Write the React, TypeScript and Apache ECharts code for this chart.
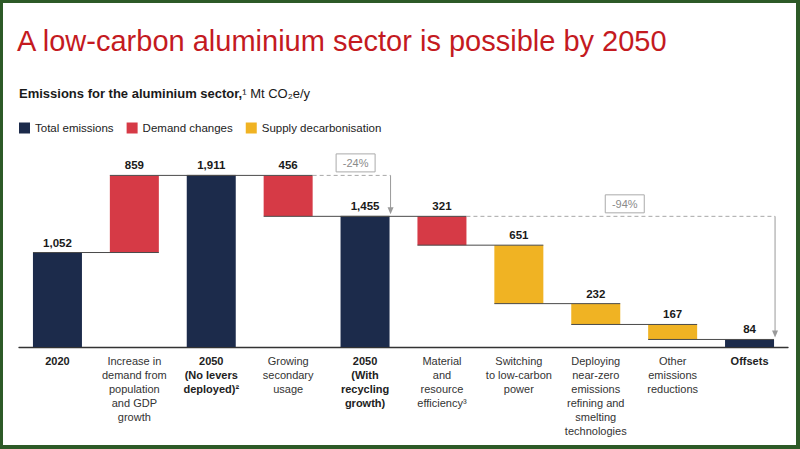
import React, { useEffect, useRef } from "react";
import * as echarts from "echarts";

const categories = [
  "2020",
  "Increase in\ndemand from\npopulation\nand GDP\ngrowth",
  "2050\n(No levers\ndeployed)²",
  "Growing\nsecondary\nusage",
  "2050\n(With\nrecycling\ngrowth)",
  "Material\nand\nresource\nefficiency³",
  "Switching\nto low-carbon\npower",
  "Deploying\nnear-zero\nemissions\nrefining and\nsmelting\ntechnologies",
  "Other\nemissions\nreductions",
  "Offsets",
];
// kind: total / demand / supply ; step sign: +1 increase, -1 decrease
const kinds = ["total", "demand", "total", "demand", "total", "demand", "supply", "supply", "supply", "total"];
const values = [1052, 859, 1911, 456, 1455, 321, 651, 232, 167, 84];
const signs = [0, 1, 0, -1, 0, -1, -1, -1, -1, 0];
const pctLabels = ["-24%", "-94%"];
const annotations = [
  [3, 4, 1911, 1455],
  [5, 9, 1455, 84],
];

const NAVY = "#1c2b4b";
const RED = "#d63a46";
const YELLOW = "#f0b323";
const FONT = "Liberation Sans";

export default function App() {
  const ref = useRef<HTMLDivElement>(null);
  useEffect(() => {
    if (!ref.current) return;
    const chart = echarts.init(ref.current, null, { renderer: "svg" });

    const base: number[] = [];
    const levels: number[] = [];
    let run = 0;
    values.forEach((v, i) => {
      if (signs[i] === 0) {
        base.push(0);
        run = v;
      } else if (signs[i] > 0) {
        base.push(run);
        run = run + v;
      } else {
        run = run - v;
        base.push(run);
      }
      levels.push(run);
    });
    const pick = (k: string) => values.map((v, i) => (kinds[i] === k ? v : "-"));
    const connectors: number[][] = [];
    for (let i = 0; i < values.length - 1; i++) connectors.push([i, levels[i]]);

    const barW = 49;
    const fmt = (p: any) => Number(p.value).toLocaleString("en-US");
    const barLabel = {
      show: true,
      position: "top" as const,
      formatter: fmt,
      fontFamily: FONT,
      fontWeight: "bold" as const,
      fontSize: 11.5,
      color: "#1a1a1a",
      distance: 4,
    };
    const bold = new Set([0, 2, 4, 9]);

    chart.setOption({
      animation: false,
      backgroundColor: "#ffffff",
      textStyle: { fontFamily: FONT },
      legend: {
        left: 14,
        top: 117,
        itemWidth: 11,
        itemHeight: 11,
        itemGap: 13,
        icon: "rect",
        data: ["Total emissions", "Demand changes", "Supply decarbonisation"],
        textStyle: { fontFamily: FONT, fontSize: 11.5, color: "#222" },
        selectedMode: false,
      },
      grid: { left: 19, right: 12, top: 167.4, bottom: 102 },
      xAxis: {
        type: "category",
        data: categories,
        axisTick: { show: false },
        axisLine: { lineStyle: { color: "#333", width: 1.3 } },
        axisLabel: {
          interval: 0,
          margin: 7,
          fontFamily: FONT,
          fontSize: 11,
          lineHeight: 14,
          color: "#333",
          formatter: (val: string, idx: number) =>
            bold.has(idx)
              ? val.split("\n").map((l) => `{b|${l}}`).join("\n")
              : val,
          rich: {
            b: { fontFamily: FONT, fontSize: 11, fontWeight: "bold", lineHeight: 14, color: "#222" },
          },
        },
      },
      yAxis: { type: "value", min: 0, max: 2000, show: false, splitLine: { show: false } },
      series: [
        {
          name: "base",
          type: "bar",
          stack: "w",
          barWidth: barW,
          silent: true,
          itemStyle: { color: "transparent" },
          data: base,
        },
        {
          name: "Total emissions",
          type: "bar",
          stack: "w",
          barWidth: barW,
          itemStyle: { color: NAVY },
          label: barLabel,
          data: pick("total"),
        },
        {
          name: "Demand changes",
          type: "bar",
          stack: "w",
          barWidth: barW,
          itemStyle: { color: RED },
          label: barLabel,
          data: pick("demand"),
        },
        {
          name: "Supply decarbonisation",
          type: "bar",
          stack: "w",
          barWidth: barW,
          itemStyle: { color: YELLOW },
          label: barLabel,
          data: pick("supply"),
        },
        {
          type: "custom",
          silent: true,
          z: 5,
          encode: { x: 0, y: 1 },
          data: connectors,
          renderItem: (params: any, api: any) => {
            const i = api.value(0);
            const lvl = api.value(1);
            const a = api.coord([i, lvl]);
            const b = api.coord([i + 1, lvl]);
            const hw = barW / 2;
            return {
              type: "line",
              shape: { x1: a[0] - hw, y1: a[1], x2: b[0] + hw, y2: b[1] },
              style: { stroke: "#4a4a4a", lineWidth: 1 },
            };
          },
        },
        {
          type: "custom",
          silent: true,
          z: 6,
          encode: { x: 0, y: 2 },
          data: annotations,
          renderItem: (params: any, api: any) => {
            const from = api.value(0);
            const to = api.value(1);
            const l1 = api.value(2);
            const l2 = api.value(3);
            const hw = barW / 2;
            const p1 = api.coord([from, l1]);
            const p2 = api.coord([to, l2]);
            const x1 = p1[0] + hw;
            const cx = p2[0] + hw + 1;
            const y1 = p1[1];
            const y2 = p2[1] - 2;
            const bx = (x1 + cx) / 2 + 4;
            const by = y1 - 12.5;
            const bwid = 39;
            return {
              type: "group",
              children: [
                {
                  type: "polyline",
                  shape: { points: [[x1, y1], [cx, y1]] },
                  style: { stroke: "#a8a8a8", lineWidth: 1, lineDash: [4, 3], fill: "none" },
                },
                {
                  type: "line",
                  shape: { x1: cx, y1: y1, x2: cx, y2: y2 - 5 },
                  style: { stroke: "#9a9a9a", lineWidth: 1 },
                },
                {
                  type: "polygon",
                  shape: { points: [[cx - 3, y2 - 7], [cx + 3, y2 - 7], [cx, y2]] },
                  style: { fill: "#9a9a9a" },
                },
                {
                  type: "rect",
                  shape: { x: bx - bwid / 2, y: by - 9, width: bwid, height: 18 },
                  style: { fill: "#fff", stroke: "#aaaaaa", lineWidth: 1 },
                },
                {
                  type: "text",
                  x: bx,
                  y: by,
                  style: {
                    text: pctLabels[params.dataIndex],
                    fill: "#8a8a8a",
                    fontFamily: FONT,
                    fontSize: 11,
                    align: "center",
                    verticalAlign: "middle",
                  },
                },
              ],
            };
          },
        },
      ],
      graphic: [
        {
          type: "text",
          left: 17,
          top: 26,
          style: {
            text: "A low-carbon aluminium sector is possible by 2050",
            fill: "#c41a1f",
            fontFamily: FONT,
            fontSize: 29,
          },
        },
        {
          type: "text",
          x: 19,
          y: 93.5,
          style: {
            text: "{b|Emissions for the aluminium sector,}{n|¹ Mt CO₂e/y}",
            verticalAlign: "middle",
            rich: {
              b: { fontFamily: FONT, fontSize: 13, fontWeight: "bold", fill: "#1a1a1a" },
              n: { fontFamily: FONT, fontSize: 13, fill: "#1a1a1a" },
            },
          },
        },
        { type: "rect", shape: { x: 0, y: 0, width: 3, height: 449 }, style: { fill: "#2d5a27" } },
        { type: "rect", shape: { x: 0, y: 0, width: 800, height: 3 }, style: { fill: "#2d5a27" } },
        { type: "rect", shape: { x: 796, y: 0, width: 4, height: 449 }, style: { fill: "#2d5a27" } },
        { type: "rect", shape: { x: 0, y: 445, width: 800, height: 4 }, style: { fill: "#2d5a27" } },
      ],
    });
    return () => chart.dispose();
  }, []);
  return (
    <div
      ref={ref}
      style={{ position: "absolute", left: 0, top: 0, width: 800, height: 449 }}
    />
  );
}
